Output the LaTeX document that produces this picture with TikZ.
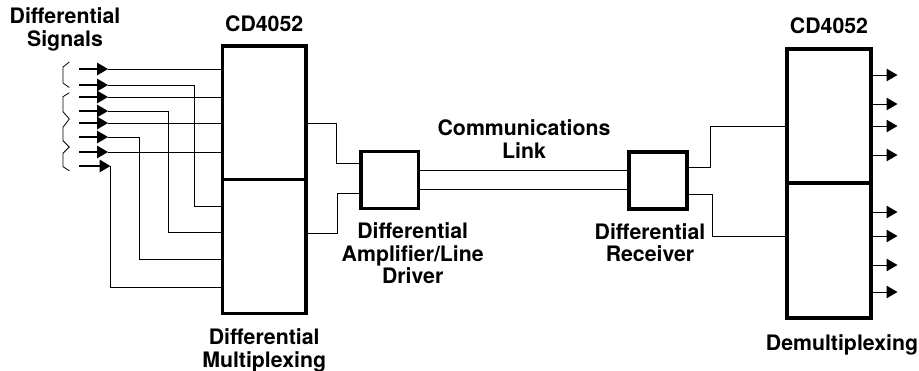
\documentclass[tikz,border=0pt]{standalone}
\usepackage{fontspec}
\setmainfont{TeX Gyre Heros}
\usetikzlibrary{positioning,arrows.meta}

\tikzset{
    chip/.style={draw, line width=3.4pt, minimum width=#1, inner sep=0pt},
    label/.style={font=\fontsize{21.3}{22.3}\bfseries\selectfont, align=center, inner sep=0pt},
    wire/.style={line width=1pt},
    lead/.style={line width=1.5pt, -{Triangle[length=11pt,width=12.5pt]}, shorten >=-0.5pt},
    brace/.style={line width=0.8pt}
}

\begin{document}
\begin{tikzpicture}[x=1pt, y=-1pt]
                \useasboundingbox (0,0) rectangle (919,370);

                \node[chip=83.5pt, minimum height=133.5pt] (muxtop) at (264.2,112.7) {};
                \node[chip=83.5pt, minimum height=134pt] (muxbot) at (264.2,246.5) {};
                \node[chip=84pt, minimum height=134pt] (demuxtop) at (829,116) {};
                \node[chip=84pt, minimum height=135pt] (demuxbot) at (829,250.5) {};
                \node[chip=57.5pt, minimum height=57pt] (amp) at (389.7,180.2) {};
                \node[chip=58pt, minimum height=57pt] (rec) at (658,180.5) {};

                \foreach \n/\y/\tip in {1/69/107.5, 2/85/107.5, 3/97/107.5, 4/111/107.5,
                                        5/123/107.5, 6/137/107.5, 7/152/107.5, 8/166/110} {
                    \coordinate (in\n) at (79,\y);
                    \coordinate (tip\n) at (\tip,\y);
                    \draw[lead] (in\n) -- (tip\n);
                }
                \foreach \n in {1,3,5,7} {
                    \draw[wire] (tip\n) -- (muxtop.west |- tip\n);
                }
                \foreach \n/\x/\y in {2/194/206, 4/168/232, 6/139.5/259, 8/110/287} {
                    \coordinate (drop\n) at (\x,\y);
                    \draw[wire] (tip\n) -| (drop\n) -- (muxbot.west |- drop\n);
                }

                \coordinate (muxout1) at (306,123);
                \coordinate (muxout2) at (306,233);
                \coordinate (ampin1) at (361,163);
                \coordinate (ampin2) at (361,193);
                \draw[wire] (muxout1) -- ++(30,0) |- (ampin1);
                \draw[wire] (muxout2) -- ++(31,0) |- (ampin2);

                \draw[wire] (amp.east |- 0,170) -- (rec.west |- 0,170);
                \draw[wire] (amp.east |- 0,189) -- (rec.west |- 0,189);

                \coordinate (recout1) at (687,167);
                \coordinate (recout2) at (687,194);
                \coordinate (demuxin1) at (787,126);
                \coordinate (demuxin2) at (787,236);
                \draw[wire] (recout1) -- ++(23,0) |- (demuxin1);
                \draw[wire] (recout2) -- ++(25,0) |- (demuxin2);

                \foreach \n/\y in {1/75, 2/104, 3/126, 4/155, 5/212, 6/236, 7/265, 8/292} {
                    \coordinate (out\n) at (897,\y);
                    \draw[lead, line width=1pt] (demuxtop.east |- out\n) -- (out\n);
                }

                \draw[brace] (69.3,62) -- (63,67) -- (63,83) -- (69.3,87.5);
                \draw[brace] (69.3,92.7) -- (63,96.7) -- (63,111.7) -- (69.3,119)
                    -- (63,127.3) -- (63,140.7) -- (69.3,147) -- (63,153.3)
                    -- (63,166.7) -- (69.3,170.7);

                \node[label] (inlabel) at (65,29.5) {Differential\\Signals};
                \node[label, above=12pt of muxtop] (muxname) {CD4052};
                \node[label, above=13pt of demuxtop] (demuxname) {CD4052};
                \node[label, below=13.5pt of muxbot] (muxlabel) {Differential\\Multiplexing};
                \node[label, below=12.5pt of amp, xshift=23pt] (amplabel) {Differential\\Amplifier/Line\\Driver};
                \node[label, below=12.5pt of rec, xshift=-8pt] (reclabel) {Differential\\Receiver};
                \node[label] (linklabel) at (524,139) {Communications\\Link};
                \node[label, below=14.5pt of demuxbot, xshift=13pt] (demuxlabel) {Demultiplexing};
                \end{tikzpicture}
\end{document}
